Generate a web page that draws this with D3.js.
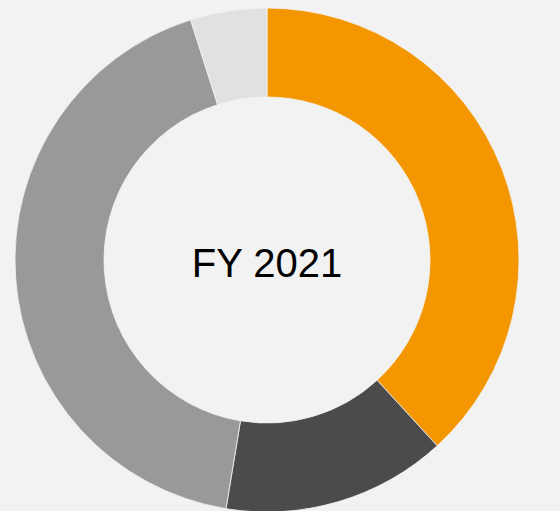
<!DOCTYPE html>
<html>
<head>
<meta charset="utf-8">
<script src="https://cdn.jsdelivr.net/npm/d3@7"></script>
<style>
html,body{margin:0;padding:0;background:#f2f2f2;overflow:hidden;}
svg{display:block;}
</style>
</head>
<body>
<svg id="chart" width="560" height="511"></svg>
<script>
const categories = ["Segment A", "Segment B", "Segment C", "Segment D"];
const values = [38.2, 14.4, 42.5, 4.9];
const colors = ["#f39600", "#4b4b4b", "#999999", "#e1e1e1"];
const centerLabel = "FY 2021";

const svg = d3.select("#chart");
const cx = 267, cy = 260, outerR = 252, innerR = 163;
const g = svg.append("g").attr("transform", `translate(${cx},${cy})`);

const pie = d3.pie().sort(null).value(d => d.value);
const arc = d3.arc().innerRadius(innerR).outerRadius(outerR);
const data = categories.map((c, i) => ({cat: c, value: values[i], color: colors[i]}));

g.selectAll("path").data(pie(data)).join("path")
  .attr("d", arc)
  .attr("fill", d => d.data.color)
  .attr("stroke", "#f2f2f2")
  .attr("stroke-width", 0.8);

g.append("text")
  .attr("x", 0).attr("y", 17)
  .attr("text-anchor", "middle")
  .attr("font-family", "'Liberation Sans', Arial, sans-serif")
  .attr("font-size", 40)
  .attr("fill", "#000")
  .text(centerLabel);
</script>
</body>
</html>
